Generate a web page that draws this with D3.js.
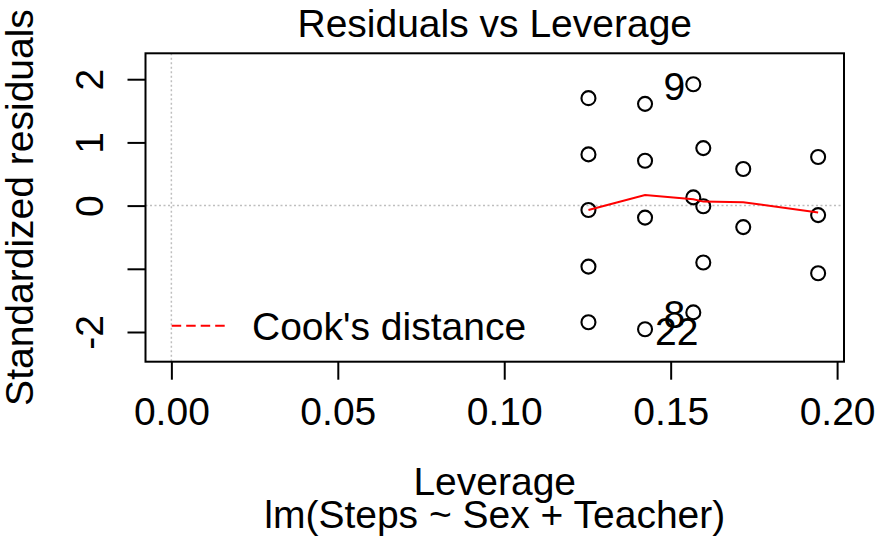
<!DOCTYPE html>
<html>
<head>
<meta charset="utf-8">
<script src="https://cdn.jsdelivr.net/npm/d3@7"></script>
<style>
    body { margin: 0; background: #fff; }
    text { font-family: "Liberation Sans", Arial, sans-serif; fill: #000; }
</style>
</head>
<body>
<div id="chart"></div>
<script>
// leverage and standardized residual of each observation
const leverage = [
    0.1253, 0.1253, 0.1253, 0.1253, 0.1253,
    0.1423, 0.1423, 0.1423, 0.1423,
    0.1568, 0.1568, 0.1568,
    0.1598, 0.1598, 0.1598,
    0.1718, 0.1718,
    0.1943, 0.1943, 0.1943
];
const stdResid = [
    1.70, 0.81, -0.07, -0.965, -1.845,
    1.61, 0.71, -0.19, -1.956,
    1.92, 0.13, -1.69,
    0.91, -0.01, -0.90,
    0.58, -0.34,
    0.77, -0.15, -1.07
];
// observation number shown next to the most extreme points
const idLabel = [
    "", "", "", "", "",
    "", "", "", "22",
    "9", "", "8",
    "", "", "",
    "", "",
    "", "", ""
];
// smoother (red line)
const smoothX = [0.1253, 0.1423, 0.1568, 0.1598, 0.1718, 0.1943];
const smoothY = [-0.07, 0.168, 0.10, 0.063, 0.054, -0.11];

const xTicks = [0, 0.05, 0.10, 0.15, 0.20];
const yTicks = [-2, -1, 0, 1, 2];
const yTickLabels = ["-2", "", "0", "1", "2"];

const config = {
    width: 880,
    height: 543,
    padding: { top: 53.3, right: 36, bottom: 181.3, left: 145.5 }
};
const fs = 39;

const svg = d3.select('#chart').append('svg')
    .attr('width', config.width)
    .attr('height', config.height);

const x0 = config.padding.left, x1 = config.width - config.padding.right;
const y0 = config.padding.top, y1 = config.height - config.padding.bottom;

// R style 4% range extension
const xMax = d3.max(leverage);
const xScale = d3.scaleLinear()
    .domain([0 - 0.04 * xMax, xMax * 1.04])
    .range([x0, x1]);
const yScale = d3.scaleLinear()
    .domain([-2.47, 2.41])
    .range([y1, y0]);

// reference lines at 0
svg.append('line')
    .attr('x1', x0).attr('x2', x1)
    .attr('y1', yScale(0)).attr('y2', yScale(0))
    .attr('stroke', '#bebebe').attr('stroke-width', 1.5)
    .attr('stroke-dasharray', '2,2.5');
svg.append('line')
    .attr('x1', xScale(0)).attr('x2', xScale(0))
    .attr('y1', y0).attr('y2', y1)
    .attr('stroke', '#bebebe').attr('stroke-width', 1.5)
    .attr('stroke-dasharray', '2,2.5');

// points
svg.append('g').selectAll('circle')
    .data(leverage)
    .enter()
    .append('circle')
    .attr('cx', d => xScale(d))
    .attr('cy', (d, i) => yScale(stdResid[i]))
    .attr('r', 7)
    .attr('fill', 'none')
    .attr('stroke', '#000')
    .attr('stroke-width', 2.1);

// smoother
const line = d3.line()
    .x(d => xScale(d))
    .y((d, i) => yScale(smoothY[i]));
svg.append('path')
    .attr('d', line(smoothX))
    .attr('fill', 'none')
    .attr('stroke', '#ff0000')
    .attr('stroke-width', 2);

// id labels: left of the point if right of the middle of the labelled range
const labelled = d3.range(leverage.length).filter(i => idLabel[i] !== "");
const midX = d3.mean(d3.extent(labelled, i => leverage[i]));
svg.append('g').selectAll('text')
    .data(labelled)
    .enter()
    .append('text')
    .attr('x', i => xScale(leverage[i]) + (leverage[i] > midX ? -8 : 10))
    .attr('y', i => yScale(stdResid[i]))
    .attr('dy', '0.4em')
    .attr('text-anchor', i => leverage[i] > midX ? 'end' : 'start')
    .attr('font-size', fs)
    .text(i => idLabel[i]);

// box
svg.append('rect')
    .attr('x', x0).attr('y', y0)
    .attr('width', x1 - x0).attr('height', y1 - y0)
    .attr('fill', 'none')
    .attr('stroke', '#000')
    .attr('stroke-width', 2);

// x axis
const xAxis = d3.axisBottom(xScale)
    .tickValues(xTicks)
    .tickSize(18)
    .tickFormat(d3.format('.2f'));
const xAxisLine = svg.append('g')
    .attr('transform', 'translate(0,' + y1 + ')')
    .call(xAxis);
xAxisLine.select('.domain').remove();
xAxisLine.selectAll('line').attr('stroke', '#000').attr('stroke-width', 2);
xAxisLine.selectAll('text')
    .attr('y', 63.5).attr('dy', 0)
    .attr('font-size', fs)
    .attr('font-family', '"Liberation Sans", Arial, sans-serif')
    .attr('fill', '#000');

// y axis
const yAxis = d3.axisLeft(yScale)
    .tickValues(yTicks)
    .tickSize(18)
    .tickFormat((d, i) => yTickLabels[i]);
const yAxisLine = svg.append('g')
    .attr('transform', 'translate(' + x0 + ',0)')
    .call(yAxis);
yAxisLine.select('.domain').remove();
yAxisLine.selectAll('line').attr('stroke', '#000').attr('stroke-width', 2);
yAxisLine.selectAll('text')
    .attr('x', 0).attr('y', -42.5).attr('dy', 0)
    .attr('transform', 'rotate(-90)')
    .attr('text-anchor', 'middle')
    .attr('font-size', fs)
    .attr('font-family', '"Liberation Sans", Arial, sans-serif')
    .attr('fill', '#000');

// legend
const legendY = 325.7;
svg.append('line')
    .attr('x1', 171.7).attr('x2', 227)
    .attr('y1', legendY).attr('y2', legendY)
    .attr('stroke', '#ff0000').attr('stroke-width', 2)
    .attr('stroke-dasharray', '9.5,5');
svg.append('text')
    .attr('x', 252).attr('y', 340)
    .attr('font-size', fs)
    .text("Cook's distance");

// titles
const cx = (x0 + x1) / 2;
svg.append('text')
    .attr('x', cx).attr('y', 37)
    .attr('text-anchor', 'middle')
    .attr('font-size', fs)
    .text('Residuals vs Leverage');
svg.append('text')
    .attr('x', cx).attr('y', 495)
    .attr('text-anchor', 'middle')
    .attr('font-size', fs)
    .text('Leverage');
svg.append('text')
    .attr('x', cx).attr('y', 528)
    .attr('text-anchor', 'middle')
    .attr('font-size', fs)
    .text('lm(Steps ~ Sex + Teacher)');
svg.append('text')
    .attr('transform', 'translate(33,' + ((y0 + y1) / 2) + ') rotate(-90)')
    .attr('text-anchor', 'middle')
    .attr('font-size', fs)
    .text('Standardized residuals');
</script>
</body>
</html>
